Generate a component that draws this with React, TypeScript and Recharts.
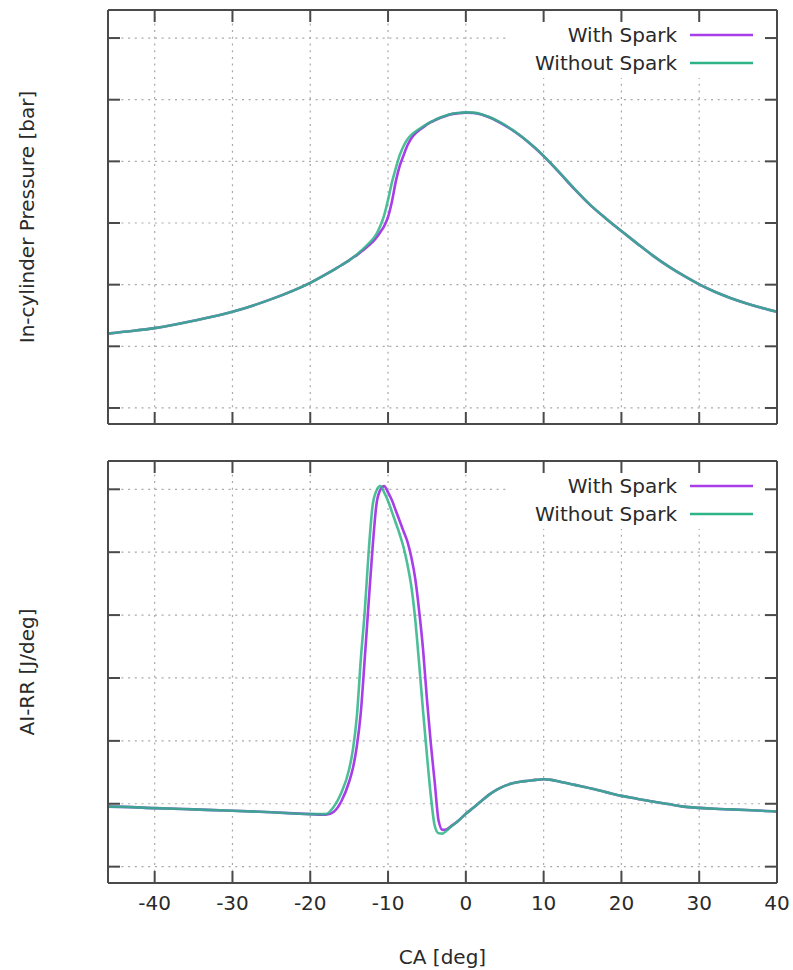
import React from "react";
import { CartesianGrid, Legend, Line, LineChart, XAxis, YAxis } from "recharts";

// crank angle [deg]
const crankAngle = [
  -46, -44, -40, -35, -30, -25, -20, -18, -17, -16, -15, -14.5, -14, -13.5, -13, -12.5, -12, -11.5, -11,
  -10.5, -10, -9.5, -9, -8.5, -8, -7.5, -7, -6.5, -6, -5.5, -5, -4.5, -4, -3.5, -3, -2.5, -2, -1, 0, 1, 2,
  3, 4, 5, 6, 7, 8, 9, 10, 11, 12, 14, 16, 18, 20, 22, 24, 26, 28, 30, 32, 34, 36, 38, 40,
];

const pressureWithSpark = [
  24.1, 24.7, 25.9, 28.3, 31.2, 35.3, 40.6, 43.3, 44.8, 46.3, 47.9, 48.8, 49.6, 50.6, 51.6, 52.7, 53.8, 55.2,
  57.0, 59.0, 62.0, 67.0, 73.5, 78.5, 82.0, 85.2, 87.5, 89.0, 90.1, 91.0, 92.0, 92.7, 93.3, 93.9, 94.4, 94.8,
  95.2, 95.6, 95.8, 95.7, 95.2, 94.3, 93.1, 91.7, 90.1, 88.3, 86.3, 84.1, 81.7, 79.1, 76.4, 70.9, 65.8, 61.5,
  57.4, 53.4, 49.5, 46.0, 42.9, 40.1, 37.7, 35.7, 34.0, 32.5, 31.2,
];

const pressureWithoutSpark = [
  24.1, 24.7, 25.9, 28.3, 31.2, 35.3, 40.6, 43.3, 44.8, 46.3, 47.9, 48.8, 49.8, 50.9, 52.1, 53.3, 54.6, 56.4,
  59.0, 62.5, 67.5, 73.2, 77.8, 82.0, 85.0, 87.2, 88.6, 89.6, 90.5, 91.3, 92.1, 92.8, 93.4, 94.0, 94.5, 94.9,
  95.3, 95.7, 95.9, 95.8, 95.3, 94.4, 93.2, 91.8, 90.2, 88.4, 86.4, 84.2, 81.8, 79.2, 76.5, 71.0, 65.9, 61.5,
  57.4, 53.4, 49.5, 46.0, 42.9, 40.1, 37.7, 35.7, 34.0, 32.5, 31.2,
];

const rrWithSpark = [
  -0.9, -1.0, -1.4, -1.8, -2.2, -2.7, -3.3, -3.5, -2.6, 0.8, 7.0, 11.5, 18.5, 29.0, 46.0, 63.7, 81.0, 95.0,
  99.8, 101.0, 99.0, 96.5, 93.2, 89.9, 86.6, 83.3, 78.3, 71.5, 61.3, 49.1, 33.2, 19.1, 6.8, -5.4, -8.3, -8.2,
  -7.3, -5.5, -3.2, -1.2, 0.9, 2.9, 4.5, 5.7, 6.5, 7.0, 7.3, 7.6, 7.8, 7.6, 7.1, 6.0, 4.9, 3.7, 2.5, 1.6,
  0.7, -0.1, -0.9, -1.3, -1.6, -1.8, -2.0, -2.2, -2.5,
];

const rrWithoutSpark = [
  -0.9, -1.0, -1.4, -1.8, -2.2, -2.7, -3.3, -3.3, -1.0, 3.5, 11.0, 17.5, 28.0, 46.0, 61.0, 79.8, 94.5, 99.5,
  101.0, 99.0, 96.3, 92.8, 89.3, 85.7, 81.5, 76.0, 69.0, 58.5, 44.5, 29.5, 15.5, 2.5, -7.0, -9.4, -9.5, -8.6,
  -7.5, -5.5, -3.2, -1.2, 0.9, 2.9, 4.5, 5.7, 6.5, 7.0, 7.3, 7.6, 7.8, 7.6, 7.1, 6.0, 4.9, 3.7, 2.5, 1.6,
  0.7, -0.1, -0.9, -1.3, -1.6, -1.8, -2.0, -2.2, -2.5,
];

const xTicks = [-40, -30, -20, -10, 0, 10, 20, 30, 40];
const pressureTicks = [0, 20, 40, 60, 80, 100, 120];
const rrTicks = [-20, 0, 20, 40, 60, 80, 100];

const PURPLE = "#a83ee8";
const GREEN = "#2eb386";
const FRAME = "#4a4a4a";
const INK = "#2a2a2a";

const pressureData = crankAngle.map((ca, i) => ({
  ca,
  withSpark: pressureWithSpark[i],
  withoutSpark: pressureWithoutSpark[i],
}));

const rrData = crankAngle.map((ca, i) => ({
  ca,
  withSpark: rrWithSpark[i],
  withoutSpark: rrWithoutSpark[i],
}));

// tick marks only, no label text
const NoLabel = () => <g />;

function LegendBox({ payload }: any) {
  return (
    <div style={{ background: "#fff", width: 257, height: 56 }}>
      <svg width={257} height={56}>
        {(payload || []).map((p: any, i: number) => (
          <g key={p.value}>
            <text
              x={169}
              y={13 + i * 28}
              textAnchor="end"
              dominantBaseline="central"
              fontSize={20}
              fill={INK}
            >
              {p.value}
            </text>
            <line x1={182} x2={245} y1={13 + i * 28} y2={13 + i * 28} stroke={p.color} strokeWidth={2.5} />
          </g>
        ))}
      </svg>
    </div>
  );
}

function Panel({
  data,
  height,
  margin,
  topAxisH,
  bottomAxisH,
  yTicks,
  yDomain,
  yLabel,
  showX,
  legendTop,
}: any) {
  const axisStyle = { stroke: FRAME, strokeWidth: 2 };
  return (
    <LineChart width={793} height={height} data={data} margin={margin}>
      <CartesianGrid stroke="#a8a8a8" strokeWidth={1.2} strokeDasharray="2 4.7" />
      <XAxis
        dataKey="ca"
        type="number"
        domain={[-46, 40]}
        ticks={xTicks}
        allowDataOverflow
        height={bottomAxisH}
        axisLine={axisStyle}
        tickLine={axisStyle}
        tickSize={-12}
        tickMargin={25}
        tick={showX ? { fill: INK, fontSize: 20 } : NoLabel}
        label={
          showX
            ? () => (
                <text x={442.5} y={519} textAnchor="middle" fontSize={20} fill={INK}>
                  CA [deg]
                </text>
              )
            : undefined
        }
      />
      <XAxis
        xAxisId="top"
        orientation="top"
        dataKey="ca"
        type="number"
        domain={[-46, 40]}
        ticks={xTicks}
        allowDataOverflow
        height={topAxisH}
        axisLine={axisStyle}
        tickLine={axisStyle}
        tickSize={-12}
        tick={NoLabel}
      />
      <YAxis
        type="number"
        domain={yDomain}
        ticks={yTicks}
        allowDataOverflow
        width={60}
        axisLine={axisStyle}
        tickLine={axisStyle}
        tickSize={-12}
        tick={NoLabel}
        label={(p: any) => {
          const vb = p.viewBox || {};
          const cy = (vb.y || 0) + (vb.height || 0) / 2;
          return (
            <text
              x={27}
              y={cy}
              transform={`rotate(-90 27 ${cy})`}
              textAnchor="middle"
              dominantBaseline="central"
              fontSize={20}
              fill={INK}
            >
              {yLabel}
            </text>
          );
        }}
      />
      <YAxis
        yAxisId="right"
        orientation="right"
        type="number"
        domain={yDomain}
        ticks={yTicks}
        allowDataOverflow
        width={5}
        axisLine={axisStyle}
        tickLine={axisStyle}
        tickSize={-12}
        tick={NoLabel}
      />
      <Legend
        layout="vertical"
        align="center"
        verticalAlign="middle"
        content={<LegendBox />}
        wrapperStyle={{ left: 508, top: legendTop, width: 257, height: 56 }}
      />
      <Line
        type="monotone"
        dataKey="withSpark"
        name="With Spark"
        stroke={PURPLE}
        strokeWidth={2.6}
        dot={false}
        isAnimationActive={false}
      />
      <Line
        type="monotone"
        dataKey="withoutSpark"
        name="Without Spark"
        stroke={GREEN}
        strokeWidth={2.6}
        strokeOpacity={0.85}
        dot={false}
        isAnimationActive={false}
      />
    </LineChart>
  );
}

export default function App() {
  return (
    <div
      style={{
        position: "absolute",
        left: 0,
        top: 0,
        width: 793,
        height: 970,
        background: "#fff",
        fontFamily: '"DejaVu Sans", sans-serif',
      }}
    >
      <div style={{ position: "absolute", left: 0, top: 0 }}>
        <Panel
          data={pressureData}
          height={445}
          margin={{ top: 5, right: 11, bottom: 11, left: 48 }}
          topAxisH={5}
          bottomAxisH={10}
          yTicks={pressureTicks}
          yDomain={[-5.2, 129.1]}
          yLabel="In-cylinder Pressure [bar]"
          showX={false}
          legendTop={22}
        />
      </div>
      <div style={{ position: "absolute", left: 0, top: 445 }}>
        <Panel
          data={rrData}
          height={525}
          margin={{ top: 10, right: 11, bottom: 7, left: 48 }}
          topAxisH={6}
          bottomAxisH={80}
          yTicks={rrTicks}
          yDomain={[-25.2, 109.0]}
          yLabel="AI-RR [J/deg]"
          showX={true}
          legendTop={28}
        />
      </div>
    </div>
  );
}
